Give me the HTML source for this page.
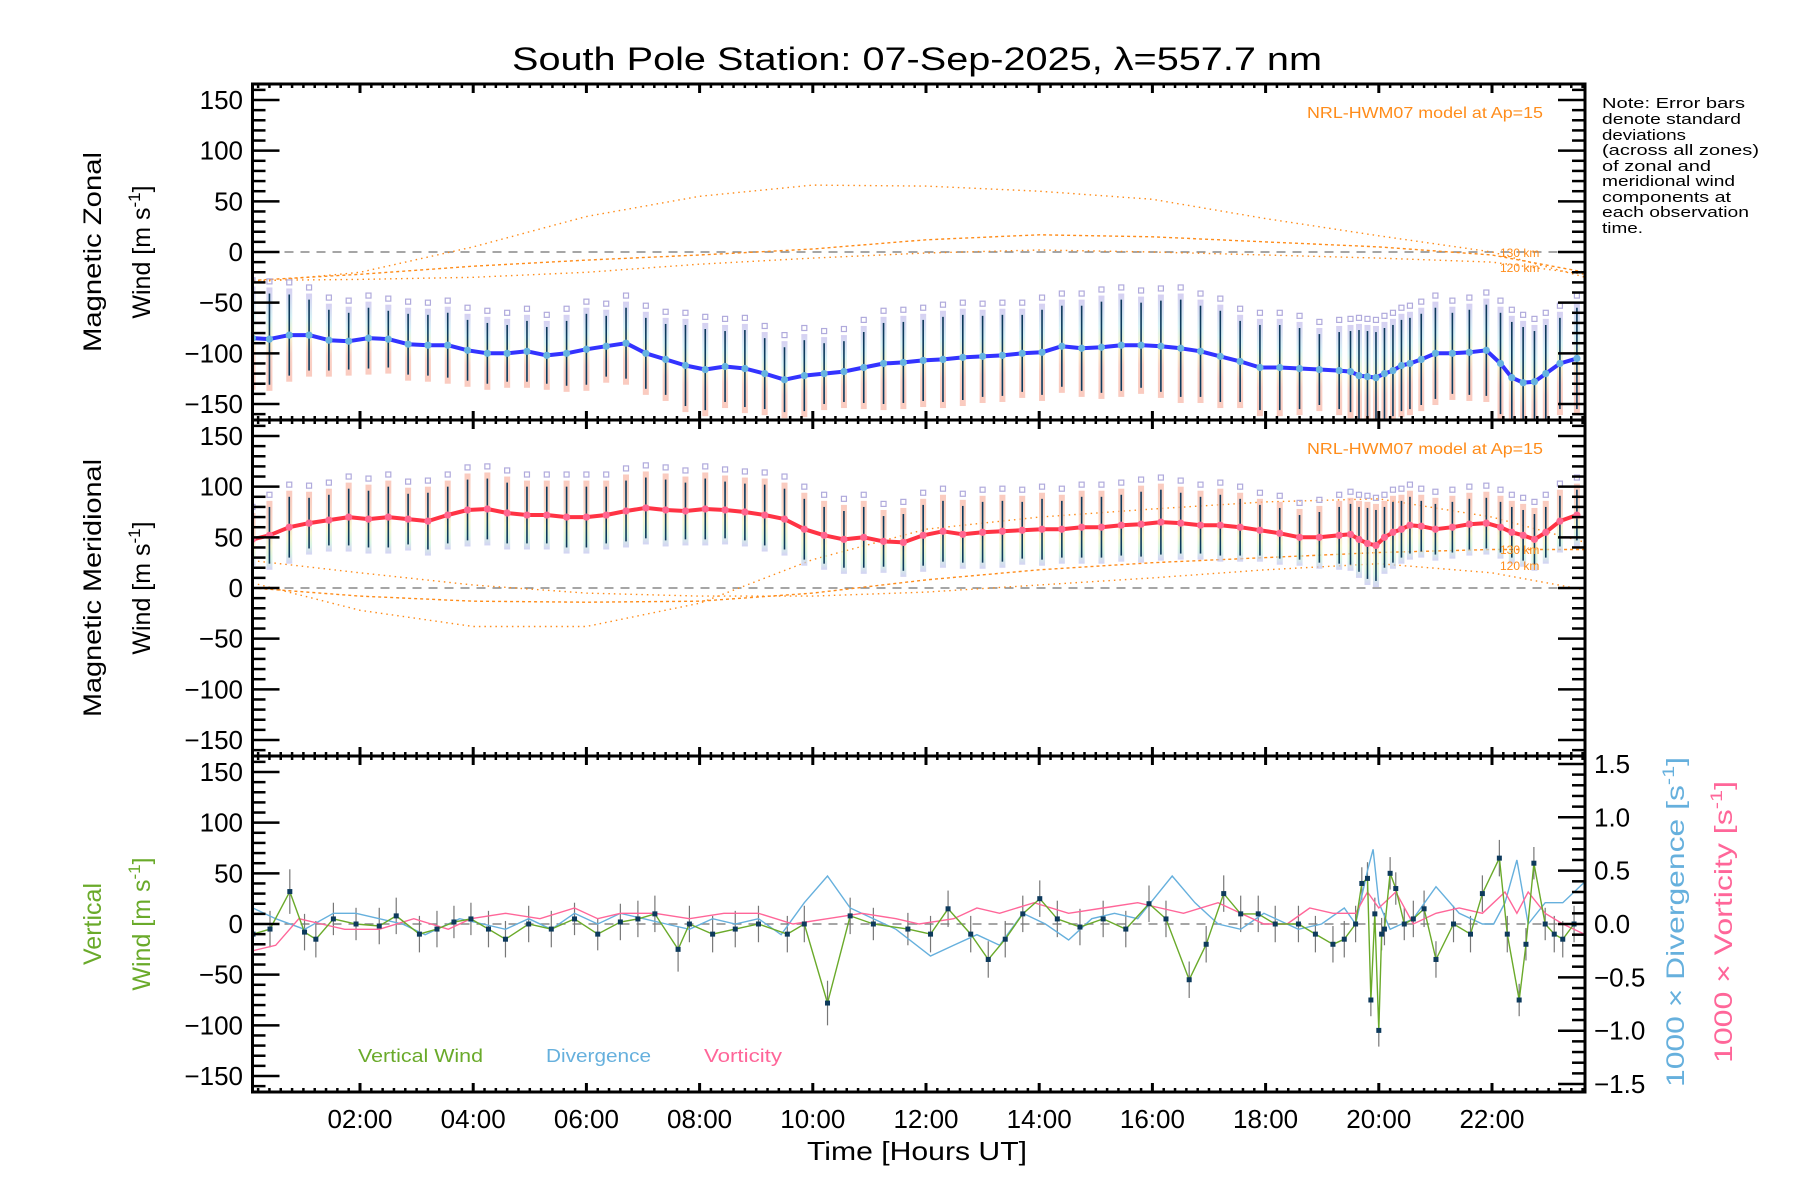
<!DOCTYPE html>
<html><head><meta charset="utf-8"><style>
html,body{margin:0;padding:0;background:#fff;}
svg{display:block;font-family:"Liberation Sans",sans-serif;}
</style></head><body>
<svg id="chart" xmlns="http://www.w3.org/2000/svg" width="1800" height="1200" viewBox="0 0 1800 1200">
<defs>
<linearGradient id="gz" x1="0" y1="0" x2="0" y2="1"><stop offset="0" stop-color="#c4bcec"/><stop offset="0.3" stop-color="#c8ecf2"/><stop offset="0.5" stop-color="#f4f2bc"/><stop offset="0.7" stop-color="#f8c0b0"/><stop offset="1" stop-color="#f8b4a4"/></linearGradient>
<linearGradient id="gm" x1="0" y1="0" x2="0" y2="1"><stop offset="0" stop-color="#f8b4a4"/><stop offset="0.4" stop-color="#f8cab0"/><stop offset="0.65" stop-color="#f4f2bc"/><stop offset="0.85" stop-color="#c8f0d8"/><stop offset="1" stop-color="#c0c0ee"/></linearGradient>
<clipPath id="c0"><rect x="253" y="84" width="1332" height="336"/></clipPath>
<clipPath id="c1"><rect x="253" y="420" width="1332" height="336"/></clipPath>
<clipPath id="c2"><rect x="253" y="756" width="1332" height="336"/></clipPath>
</defs>
<text x="917" y="70" font-size="32" text-anchor="middle" textLength="810" lengthAdjust="spacingAndGlyphs">South Pole Station: 07-Sep-2025, λ=557.7 nm</text>
<g id="layer"></g>
<text x="917" y="1160" font-size="26" text-anchor="middle" textLength="220" lengthAdjust="spacingAndGlyphs">Time [Hours UT]</text>
<g font-size="25" text-anchor="middle">
<text transform="translate(101,252) rotate(-90)" textLength="200" lengthAdjust="spacingAndGlyphs">Magnetic Zonal</text>
<text transform="translate(150,252) rotate(-90)">Wind [m s<tspan font-size="17" dy="-10">-1</tspan><tspan dy="10">]</tspan></text>
</g>
<g font-size="25" text-anchor="middle">
<text transform="translate(101,588) rotate(-90)" textLength="258" lengthAdjust="spacingAndGlyphs">Magnetic Meridional</text>
<text transform="translate(150,588) rotate(-90)">Wind [m s<tspan font-size="17" dy="-10">-1</tspan><tspan dy="10">]</tspan></text>
</g>
<g font-size="25" text-anchor="middle" fill="#6aaa2a">
<text transform="translate(101,924) rotate(-90)">Vertical</text>
<text transform="translate(150,924) rotate(-90)">Wind [m s<tspan font-size="17" dy="-10">-1</tspan><tspan dy="10">]</tspan></text>
</g>
<text transform="translate(1684,922) rotate(-90)" font-size="25" text-anchor="middle" fill="#66b0dd" textLength="330" lengthAdjust="spacingAndGlyphs">1000 × Divergence [s<tspan font-size="17" dy="-10">-1</tspan><tspan dy="10">]</tspan></text>
<text transform="translate(1732,922) rotate(-90)" font-size="25" text-anchor="middle" fill="#ff6699" textLength="282" lengthAdjust="spacingAndGlyphs">1000 × Vorticity [s<tspan font-size="17" dy="-10">-1</tspan><tspan dy="10">]</tspan></text>
<text x="1543" y="118" font-size="16" fill="#ff8c1a" text-anchor="end" textLength="236" lengthAdjust="spacingAndGlyphs">NRL-HWM07 model at Ap=15</text>
<text x="1543" y="454" font-size="16" fill="#ff8c1a" text-anchor="end" textLength="236" lengthAdjust="spacingAndGlyphs">NRL-HWM07 model at Ap=15</text>
<text x="1500" y="257" font-size="12" fill="#ff8c1a">130 km</text>
<text x="1500" y="272" font-size="12" fill="#ff8c1a">120 km</text>
<text x="1500" y="554" font-size="12" fill="#ff8c1a">130 km</text>
<text x="1500" y="570" font-size="12" fill="#ff8c1a">120 km</text>
<g font-size="15" fill="#000" lengthAdjust="spacingAndGlyphs">
<text x="1602" y="108" textLength="143" lengthAdjust="spacingAndGlyphs">Note: Error bars</text>
<text x="1602" y="124" textLength="139" lengthAdjust="spacingAndGlyphs">denote standard</text>
<text x="1602" y="140" textLength="84" lengthAdjust="spacingAndGlyphs">deviations</text>
<text x="1602" y="155" textLength="157" lengthAdjust="spacingAndGlyphs">(across all zones)</text>
<text x="1602" y="171" textLength="109" lengthAdjust="spacingAndGlyphs">of zonal and</text>
<text x="1602" y="186" textLength="133" lengthAdjust="spacingAndGlyphs">meridional wind</text>
<text x="1602" y="202" textLength="129" lengthAdjust="spacingAndGlyphs">components at</text>
<text x="1602" y="217" textLength="147" lengthAdjust="spacingAndGlyphs">each observation</text>
<text x="1602" y="233" textLength="41" lengthAdjust="spacingAndGlyphs">time.</text>
</g>
<text x="358" y="1062" font-size="18" fill="#6aaa2a" textLength="125" lengthAdjust="spacingAndGlyphs">Vertical Wind</text>
<text x="546" y="1062" font-size="18" fill="#66b0dd" textLength="105" lengthAdjust="spacingAndGlyphs">Divergence</text>
<text x="704" y="1062" font-size="18" fill="#ff6699" textLength="78" lengthAdjust="spacingAndGlyphs">Vorticity</text>
</svg>
<script>
// ---- data ----
const obsTimes = [0.1,0.4,0.75,1.1,1.45,1.8,2.15,2.5,2.85,3.2,3.55,3.9,4.25,4.6,4.95,5.3,5.65,6.0,6.35,6.7,7.05,7.4,7.75,8.1,8.45,8.8,9.15,9.5,9.85,10.2,10.55,10.9,11.25,11.6,11.95,12.3,12.65,13.0,13.35,13.7,14.05,14.4,14.75,15.1,15.45,15.8,16.15,16.5,16.85,17.2,17.55,17.9,18.25,18.6,18.95,19.3,19.5,19.65,19.8,19.95,20.1,20.25,20.4,20.55,20.75,21.0,21.3,21.6,21.9,22.15,22.35,22.55,22.75,22.95,23.2,23.5];
const zonalWind = [-85,-86,-82,-82,-87,-88,-85,-86,-91,-92,-92,-97,-100,-100,-98,-102,-100,-96,-93,-90,-100,-106,-112,-116,-113,-115,-120,-126,-122,-120,-118,-114,-110,-109,-107,-106,-104,-103,-102,-100,-99,-93,-95,-94,-92,-92,-93,-95,-98,-103,-108,-114,-114,-115,-116,-117,-118,-122,-123,-124,-120,-117,-112,-110,-106,-100,-100,-99,-97,-110,-124,-129,-128,-120,-110,-105];
const zonalErr = [45,45,40,35,30,28,30,28,30,30,32,30,30,28,30,28,32,35,30,35,35,35,40,40,35,38,35,32,35,30,30,35,40,40,40,42,42,40,40,38,42,40,42,45,45,42,45,48,45,45,40,42,42,40,35,38,40,45,45,45,45,45,45,45,45,45,40,42,45,50,55,55,50,48,45,50];
const meridWind = [48,52,60,64,67,70,68,70,68,66,72,77,78,74,72,72,70,70,72,76,79,77,76,78,77,75,72,68,58,52,48,50,46,45,52,56,53,55,56,57,58,58,60,60,62,63,65,64,62,62,60,57,54,50,50,52,53,48,44,42,50,55,58,62,61,58,60,63,64,60,55,52,48,55,66,72];
const meridErr = [20,28,30,25,25,28,28,30,25,28,28,30,30,30,28,28,30,30,28,30,30,30,28,30,28,28,30,30,30,28,28,30,25,28,30,30,28,30,30,28,30,28,30,30,30,32,32,30,28,30,28,25,25,22,25,28,30,32,35,35,30,30,28,28,25,25,25,25,25,25,25,25,25,25,25,25];
const vertTimes = [0.11,0.41,0.76,1.02,1.22,1.53,1.93,2.34,2.64,3.05,3.36,3.66,3.96,4.27,4.57,4.98,5.38,5.79,6.20,6.60,6.91,7.21,7.62,7.82,8.23,8.63,9.04,9.55,9.85,10.26,10.66,11.07,11.68,12.08,12.39,12.79,13.10,13.40,13.71,14.01,14.32,14.72,15.13,15.53,15.94,16.24,16.65,16.95,17.26,17.56,17.87,18.17,18.58,18.88,19.19,19.39,19.59,19.70,19.80,19.86,19.93,20.0,20.05,20.1,20.2,20.3,20.45,20.61,20.8,21.01,21.32,21.62,21.83,22.13,22.27,22.48,22.6,22.74,22.94,23.1,23.25,23.45];
const vertWind = [-10,-5,32,-8,-15,5,0,-2,8,-10,-5,2,5,-5,-15,0,-5,5,-10,2,5,10,-25,0,-10,-5,0,-10,0,-78,8,0,-5,-10,15,-10,-35,-15,10,25,5,-3,5,-5,20,5,-55,-20,30,10,10,0,0,-10,-20,-15,0,40,45,-75,10,-105,-10,-5,50,35,0,5,15,-35,0,-10,30,65,-10,-75,-20,60,0,-10,-15,0];
const vertErr = [18,18,22,18,18,16,16,18,18,18,18,16,16,18,18,18,18,16,16,18,18,18,22,18,18,18,18,18,18,22,18,16,16,18,18,18,18,18,18,18,18,18,18,18,18,18,18,18,18,18,18,18,18,18,18,18,18,16,16,16,16,16,16,16,16,16,16,18,18,18,18,18,18,18,18,16,16,16,16,18,18,18];
const divTimes = [0.11,0.51,1.02,1.53,1.93,2.34,2.75,3.15,3.76,4.17,4.57,4.98,5.38,5.79,6.2,6.6,7.01,7.41,7.82,8.23,8.63,9.04,9.44,9.85,10.26,10.66,11.07,11.47,12.08,12.49,12.9,13.3,13.71,14.11,14.52,14.93,15.33,15.74,16.35,16.75,17.16,17.56,17.97,18.58,18.99,19.39,19.59,19.8,19.9,20.0,20.2,20.61,21.01,21.42,21.83,22.03,22.23,22.44,22.64,22.94,23.25,23.65];
const divergence = [0.15,0.05,-0.05,0.1,0.1,0.05,0.0,-0.1,0.05,0.0,-0.05,0.05,-0.05,0.1,0.0,0.1,0.05,0.0,-0.05,0.05,0.0,0.05,-0.1,0.2,0.45,0.15,0.05,-0.05,-0.3,-0.2,-0.1,-0.2,0.1,0.0,-0.15,0.05,0.1,0.05,0.45,0.2,0.0,-0.05,0.1,-0.05,0.0,0.15,0.0,0.5,0.7,0.2,-0.05,0.05,0.35,0.1,0.0,0.0,0.2,0.6,0.0,0.2,0.2,0.4];
const vortTimes = [0.11,0.51,0.92,1.32,1.73,2.34,2.95,3.56,3.96,4.57,5.18,5.79,6.2,6.6,7.21,7.82,8.43,9.04,9.65,10.26,10.87,11.47,11.88,12.49,12.9,13.3,13.91,14.52,15.13,15.74,16.14,16.55,17.16,17.56,17.97,18.38,18.78,19.19,19.59,19.8,20.0,20.3,20.61,21.01,21.42,21.83,22.23,22.44,22.64,22.94,23.25,23.65];
const vorticity = [-0.25,-0.2,0.05,0.0,-0.05,-0.05,0.05,-0.05,0.05,0.1,0.05,0.15,0.05,0.1,0.1,0.05,0.1,0.1,0.0,0.05,0.1,0.05,0.0,0.05,0.15,0.1,0.2,0.1,0.15,0.2,0.15,0.1,0.2,0.1,0.0,0.0,0.15,0.1,0.1,0.3,0.15,0.3,0.0,0.1,0.15,0.1,0.3,0.1,0.3,0.1,0.0,-0.1];
const modelTimes = [0.1,2,4,6,8,10,12,14,16,18,20,22,23.65];
const zonalModelA = [-30,-20,5,35,55,66,65,60,52,33,16,0,-25];
const zonalModelB = [-28,-22,-14,-8,-3,3,12,17,15,10,5,-3,-20];
const zonalModelC = [-28,-27,-25,-20,-12,-6,-1,2,0,-3,-6,-10,-22];
const meridModelA = [5,-22,-38,-38,-15,28,58,70,78,85,88,70,45];
const meridModelB = [0,-8,-13,-14,-13,-5,8,18,25,30,35,38,38];
const meridModelC = [27,15,3,-5,-8,-8,-4,3,10,18,24,15,-2];
const leftTicks = [-150,-100,-50,0,50,100,150];
const rightTicks = [-1.5,-1.0,-0.5,0.0,0.5,1.0,1.5];
const rightTickLabels = ["−1.5","−1.0","−0.5","0.0","0.5","1.0","1.5"];
const hourTicks = [2,4,6,8,10,12,14,16,18,20,22];
const hourTickLabels = ["02:00","04:00","06:00","08:00","10:00","12:00","14:00","16:00","18:00","20:00","22:00"];

// ---- scales ----
const NS="http://www.w3.org/2000/svg";
const L=252.5,R=1585,PT=[84,420,756],PH=336;
const X=h=>246.8+56.6*h;
const Y=(v,p)=>PT[p]+PH/2-v*1.0133;
const YR=v=>924-v*106.7;
const layer=document.getElementById('layer');
function mk(tag,attrs,parent){const e=document.createElementNS(NS,tag);for(const k in attrs)e.setAttribute(k,attrs[k]);(parent||layer).appendChild(e);return e;}

const gBand=[mk('g',{'clip-path':'url(#c0)'}),mk('g',{'clip-path':'url(#c1)'}),mk('g',{'clip-path':'url(#c2)'})];

for(let p=0;p<3;p++){
  const z=mk('line',{x1:L,x2:R,y1:Y(0,p),y2:Y(0,p),stroke:'#888','stroke-width':1.5,'stroke-dasharray':'9,7'},gBand[p]);
  
  
}

function modelCurve(vals,p,name,dash){
  const pts=modelTimes.map((t,i)=>X(t).toFixed(1)+','+Y(vals[i],p).toFixed(1)).join(' ');
  const e=mk('polyline',{points:pts,fill:'none',stroke:'#ff8c1a','stroke-width':1.4,'stroke-dasharray':dash},gBand[p]);
  
  
}
modelCurve(zonalModelA,0,'hwm-zonal-curve-a','1.5,4');
modelCurve(zonalModelB,0,'hwm-zonal-curve-b','3,3');
modelCurve(zonalModelC,0,'hwm-zonal-curve-c','1.5,4');
modelCurve(meridModelA,1,'hwm-meridional-curve-a','1.5,4');
modelCurve(meridModelB,1,'hwm-meridional-curve-b','3,3');
modelCurve(meridModelC,1,'hwm-meridional-curve-c','1.5,4');

function windSeries(vals,errs,p,grad,lineCol,mCol,name){
  obsTimes.forEach((t,i)=>{
    const x=X(t),v=vals[i],e=errs[i];
    const b=mk('rect',{x:x-3,y:Y(v+e+6,p),width:6,height:Y(v-e-6,p)-Y(v+e+6,p),fill:'url(#'+grad+')',opacity:0.7},gBand[p]);
    
    
    const q=mk('rect',{x:x-2.5,y:Y(v+e+12,p)-2.5,width:5,height:5,fill:'none',stroke:'#b0aadc','stroke-width':1.2},gBand[p]);
    
    
  });
  obsTimes.forEach((t,i)=>{
    const x=X(t),v=vals[i],e=errs[i];
    const l=mk('line',{x1:x,x2:x,y1:Y(v+e,p),y2:Y(v-e,p),stroke:'#0d3a5c','stroke-width':1.6},gBand[p]);
    
    
  });
  const pts=obsTimes.map((t,i)=>X(t).toFixed(1)+','+Y(vals[i],p).toFixed(1)).join(' ');
  const pl=mk('polyline',{points:pts,fill:'none',stroke:lineCol,'stroke-width':4,'stroke-linejoin':'round'},gBand[p]);
  
  
  obsTimes.forEach((t,i)=>{
    const c=mk('circle',{cx:X(t),cy:Y(vals[i],p),r:3.6,fill:mCol},gBand[p]);
    
    
  });
}
windSeries(zonalWind,zonalErr,0,'gz','#3333ff','#66b3e0','zonal-wind');
windSeries(meridWind,meridErr,1,'gm','#ff3344','#ff6690','meridional-wind');

vertTimes.forEach((t,i)=>{
  const x=X(t);
  const l=mk('line',{x1:x,x2:x,y1:Y(vertWind[i]+vertErr[i],2),y2:Y(vertWind[i]-vertErr[i],2),stroke:'#777','stroke-width':1.2},gBand[2]);
  
  
});
function simpleLine(ts,vs,yf,col,name){
  const pts=ts.map((t,i)=>X(t).toFixed(1)+','+yf(vs[i]).toFixed(1)).join(' ');
  const e=mk('polyline',{points:pts,fill:'none',stroke:col,'stroke-width':1.4},gBand[2]);
  
  
}
simpleLine(divTimes,divergence,YR,'#66b0dd','divergence-line');
simpleLine(vortTimes,vorticity,YR,'#ff6699','vorticity-line');
simpleLine(vertTimes,vertWind,v=>Y(v,2),'#6aaa2a','vertical-wind-line');
vertTimes.forEach((t,i)=>{
  const s=mk('rect',{x:X(t)-2.5,y:Y(vertWind[i],2)-2.5,width:5,height:5,fill:'#0d3a5c'},gBand[2]);
  
  
});

const ax=mk('g',{});


for(let p=0;p<3;p++){
  const fr=mk('rect',{x:L,y:PT[p],width:R-L,height:PH,fill:'none',stroke:'#000','stroke-width':3},ax);
  
  
  for(let v=-160;v<=160;v+=10){
    const y=Y(v,p); if(y<PT[p]+1||y>PT[p]+PH-1) continue;
    const major=v%50===0, len=major?27:13;
    mk('line',{x1:L,x2:L+len,y1:y,y2:y,stroke:'#000','stroke-width':2.5},ax);
    if(p<2) mk('line',{x1:R,x2:R-len,y1:y,y2:y,stroke:'#000','stroke-width':2.5},ax);
  }
  leftTicks.forEach(v=>{
    const t=mk('text',{x:243,y:Y(v,p)+9,'font-size':26,'text-anchor':'end'},ax);
    t.textContent=(v<0?'−':'')+Math.abs(v);
    
    
  });
  for(let h=0.2;h<23.7;h+=0.2){
    const x=X(h); if(x<L+2||x>R-2) continue;
    const major=Math.abs(h/2-Math.round(h/2))<0.01;
    const len=major?9:4, w=major?3:2.5;
    mk('line',{x1:x,x2:x,y1:PT[p],y2:PT[p]+len,stroke:'#000','stroke-width':w},ax);
    mk('line',{x1:x,x2:x,y1:PT[p]+PH,y2:PT[p]+PH-len,stroke:'#000','stroke-width':w},ax);
  }
}
for(let k=-15;k<=15;k++){
  const v=k/10,y=YR(v); const major=k%5===0, len=major?27:13;
  mk('line',{x1:R,x2:R-len,y1:y,y2:y,stroke:'#000','stroke-width':2.5},ax);
}
rightTicks.forEach((v,i)=>{
  const t=mk('text',{x:1594,y:YR(v)+9,'font-size':26},ax);
  t.textContent=rightTickLabels[i];
  
  
});
hourTicks.forEach((h,i)=>{
  const t=mk('text',{x:X(h),y:1128,'font-size':26,'text-anchor':'middle'},ax);
  t.textContent=hourTickLabels[i];
  
  
});
</script>
</body></html>
